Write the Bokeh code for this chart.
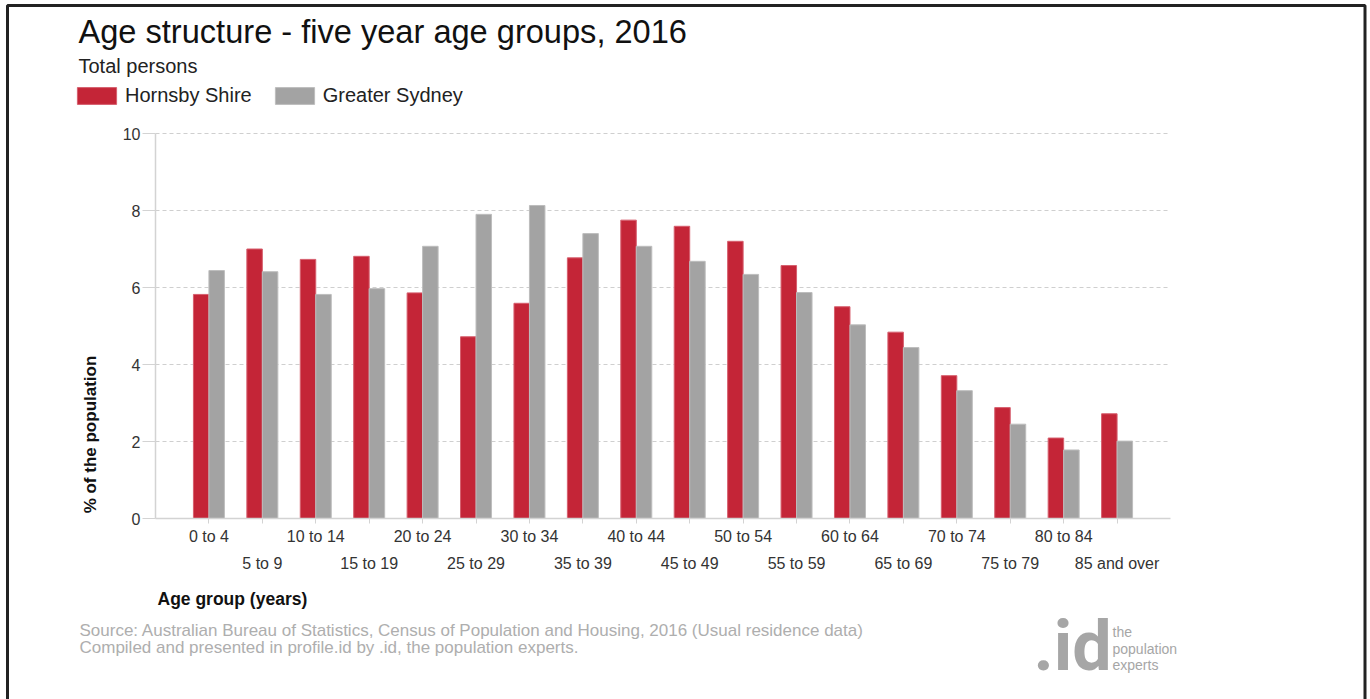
from math import pi
from bokeh.plotting import figure
from bokeh.models import (ColumnDataSource, Range1d, FixedTicker, LinearAxis, Label,
                          Legend, LegendItem, BoxAnnotation)
from bokeh.embed import file_html
from bokeh.resources import INLINE

# ---------------- data ----------------
categories = ["0 to 4", "5 to 9", "10 to 14", "15 to 19", "20 to 24", "25 to 29",
              "30 to 34", "35 to 39", "40 to 44", "45 to 49", "50 to 54", "55 to 59",
              "60 to 64", "65 to 69", "70 to 74", "75 to 79", "80 to 84", "85 and over"]
hornsby = [5.82, 7.00, 6.73, 6.81, 5.86, 4.72, 5.59, 6.77, 7.75, 7.59, 7.20, 6.57,
           5.50, 4.84, 3.71, 2.88, 2.09, 2.72]
sydney = [6.44, 6.41, 5.82, 5.97, 7.07, 7.90, 8.13, 7.40, 7.07, 6.68, 6.34, 5.87,
          5.03, 4.44, 3.32, 2.45, 1.78, 2.01]
y_ticks = [0, 2, 4, 6, 8, 10]
series_names = ["Hornsby Shire", "Greater Sydney"]

RED = "#C42537"
GREY = "#A3A3A3"
FONT = "Liberation Sans"

# page and plotting-area geometry (pixels)
W, H = 1370, 699
FL, FR, FT, FB = 155, 1170, 133, 518
Y_MAX = 10

idx = list(range(len(categories)))
n = len(categories)
x_lo, x_hi = -1, n  # data extent of the plotting area
pxu = (FR - FL) / (x_hi - x_lo)
pyu = (FB - FT) / Y_MAX
x_range = Range1d(x_lo - FL / pxu, x_hi + (W - FR) / pxu)
y_range = Range1d(-(H - FB) / pyu, Y_MAX + FT / pyu)

bw = 0.29
src = ColumnDataSource(dict(
    xr=[i - bw / 2 for i in idx], xg=[i + bw / 2 for i in idx],
    hornsby=hornsby, sydney=sydney, cat=categories))

p = figure(width=W, height=H, output_backend="svg", toolbar_location=None,
           x_range=x_range, y_range=y_range, x_axis_type=None, y_axis_type=None,
           min_border=0)
p.outline_line_color = None
p.background_fill_color = "white"
p.border_fill_color = "white"
p.xgrid.visible = False
p.ygrid.visible = False

# dashed horizontal gridlines across the plotting area
gy = y_ticks[1:]
p.segment(x0=[x_lo] * len(gy), x1=[x_hi] * len(gy), y0=gy, y1=gy,
          line_color="#CFCFCF", line_dash="4 3", line_width=1)

r1 = p.vbar(x="xr", top="hornsby", width=bw, source=src, fill_color=RED,
            line_color="#D65F6E", line_width=1)
r2 = p.vbar(x="xg", top="sydney", width=bw, source=src, fill_color=GREY,
            line_color="#BDBDBD", line_width=1)

AX_COL = "#D3D3D3"
LBL_COL = "#333333"

# y axis
yax = LinearAxis(fixed_location=x_lo, bounds=(0, Y_MAX), ticker=FixedTicker(ticks=y_ticks),
                 major_tick_out=13, major_tick_in=0, minor_tick_line_color=None,
                 major_label_standoff=2, major_label_text_font=FONT,
                 major_label_text_font_size="16px", major_label_text_color=LBL_COL,
                 axis_line_color=AX_COL, axis_line_width=1.5, major_tick_line_color=AX_COL)
p.add_layout(yax, "left")

# x axis: two staggered rows of labels
ax1 = LinearAxis(fixed_location=0, bounds=(x_lo, x_hi), ticker=FixedTicker(ticks=idx),
                 major_label_overrides={i: (c if i % 2 == 0 else "") for i, c in zip(idx, categories)},
                 major_tick_out=5, major_tick_in=0, minor_tick_line_color=None,
                 major_label_standoff=4, axis_line_color=AX_COL, axis_line_width=1.5,
                 major_tick_line_color=AX_COL, major_label_text_font=FONT,
                 major_label_text_font_size="16px", major_label_text_color=LBL_COL)
p.add_layout(ax1, "below")

ax2 = LinearAxis(fixed_location=0, bounds=(x_lo, x_hi),
                 ticker=FixedTicker(ticks=[i for i in idx if i % 2 == 1]),
                 major_label_overrides={i: c for i, c in zip(idx, categories) if i % 2 == 1},
                 axis_line_color=None, major_tick_line_color=None, minor_tick_line_color=None,
                 major_tick_out=0, major_tick_in=0, major_label_standoff=36,
                 major_label_text_font=FONT, major_label_text_font_size="16px",
                 major_label_text_color=LBL_COL)
p.add_layout(ax2, "below")


def lab(X, Y, text, size, color="#111111", style="normal", font=FONT, **kw):
    """Y is the wanted baseline (pixels from top) for alphabetic text."""
    base = kw.pop("baseline", "alphabetic")
    yy = Y - 0.39 * size if base == "alphabetic" else Y
    p.add_layout(Label(x=X, y=H - yy, x_units="screen", y_units="screen", text=text,
                       text_font=font, text_font_size=f"{size}px", text_color=color,
                       text_font_style=style, text_baseline=base,
                       text_align=kw.pop("align", "left"), **kw))


lab(78, 44, "Age structure - five year age groups, 2016", 32.6, "#111111")
lab(78, 73, "Total persons", 20, "#222222")
lab(157, 605, "Age group (years)", 17.5, "#111111", "bold")
lab(89.5, 434, "% of the population", 17, "#111111", "bold",
    angle=pi / 2, align="center", baseline="middle")
lab(79, 637, "Source: Australian Bureau of Statistics, Census of Population and Housing, 2016 (Usual residence data)",
    17, "#AEAEAE")
lab(79, 654, "Compiled and presented in profile.id by .id, the population experts.", 17, "#AEAEAE")
lab(1033, 673, ".id", 70, "#A6A6A6", "bold", font="Roboto")
lab(1112, 637, "the", 14, "#A6A6A6")
lab(1112, 654, "population", 14, "#A6A6A6")
lab(1112, 670, "experts", 14, "#A6A6A6")

legend = Legend(items=[LegendItem(label=series_names[0], renderers=[r1]),
                       LegendItem(label=series_names[1], renderers=[r2])],
                orientation="horizontal", location=(72, H - 107),
                glyph_width=49, glyph_height=21, label_standoff=4, spacing=18,
                padding=0, margin=0, border_line_color=None, background_fill_alpha=0,
                label_text_font=FONT, label_text_font_size="20px", label_text_color="#222222")
p.add_layout(legend, "center")

frame_box = BoxAnnotation(left=7, right=1364.5, top=H - 5, bottom=-20,
                          left_units="screen", right_units="screen",
                          top_units="screen", bottom_units="screen",
                          fill_alpha=0, line_color="#222222", line_alpha=1, line_width=3)
p.add_layout(frame_box)

open("out.html", "w").write(file_html(p, INLINE))
